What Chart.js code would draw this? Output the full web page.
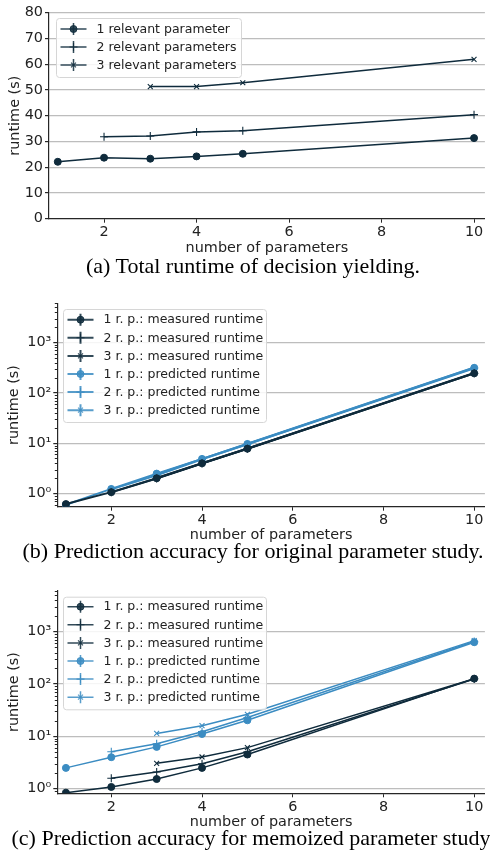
<!DOCTYPE html>
<html>
<head>
<meta charset="utf-8">
<script src="https://cdn.jsdelivr.net/npm/chart.js@4.4.0/dist/chart.umd.min.js"></script>
<style>
body { margin: 0; background: #fff; width: 490px; height: 850px; overflow: hidden; position: relative; }
canvas { position: absolute; left: 0; }
.cap { position: absolute; left: 0; width: 506px; text-align: center; font-family: "Liberation Serif", serif; font-size: 22px; line-height: 22px; color: #000; white-space: nowrap; }
</style>
</head>
<body>
<canvas id="c1" width="490" height="257" style="top:0px"></canvas>
<div class="cap" style="top:255px">(a) Total runtime of decision yielding.</div>
<canvas id="c2" width="490" height="259" style="top:285px"></canvas>
<div class="cap" style="top:540px">(b) Prediction accuracy for original parameter study.</div>
<canvas id="c3" width="490" height="256" style="top:575px"></canvas>
<div class="cap" style="top:827px">(c) Prediction accuracy for memoized parameter study.</div>
<script>
// x-Werte: Anzahl Parameter
const nParams = [1, 2, 3, 4, 5, 10];

// (a) Gesamtlaufzeit
const totalLabels = ['1 relevant parameter', '2 relevant parameters', '3 relevant parameters'];
const total1 = [22.1, 23.7, 23.3, 24.2, 25.2, 31.3];
const total2 = [null, 31.8, 32.1, 33.7, 34.2, 40.4];
const total3 = [null, null, 51.3, 51.3, 52.8, 61.9];

// (b) / (c) Legenden
const accLabels = ['1 r. p.: measured runtime', '2 r. p.: measured runtime', '3 r. p.: measured runtime',
                   '1 r. p.: predicted runtime', '2 r. p.: predicted runtime', '3 r. p.: predicted runtime'];

// (b) original parameter study
const origMeas1 = [0.62, 1.07, 2.02, 4.0, 7.8, 245];
const origMeas2 = [null, 1.06, 2.0, 3.95, 7.8, 247];
const origMeas3 = [null, null, 2.05, 4.0, 7.9, 250];
const origPred1 = [0.6, 1.24, 2.5, 4.9, 9.7, 316];
const origPred2 = [null, 1.22, 2.3, 4.8, 9.6, 310];
const origPred3 = [null, null, 2.4, 4.9, 9.8, 320];

// (c) memoized parameter study
const memoMeas1 = [0.84, 1.08, 1.53, 2.5, 4.5, 127];
const memoMeas2 = [null, 1.58, 2.08, 3.0, 5.1, 125];
const memoMeas3 = [null, null, 3.06, 4.04, 6.1, 126];
const memoPred1 = [2.5, 4.0, 6.3, 11.1, 20.3, 630];
const memoPred2 = [null, 5.1, 7.2, 12.3, 23, 650];
const memoPred3 = [null, null, 11.4, 16, 26.4, 675];

const xTicks = [2, 4, 6, 8, 10];

const dark = '#0f2b3c';
const blue = '#3b8cc2';
const sup = { '-1': '⁻¹', 0: '⁰', 1: '¹', 2: '²', 3: '³' };

Chart.defaults.font.family = '"DejaVu Sans"';
Chart.defaults.font.size = 14.4;
Chart.defaults.color = '#222';

function toPoints(ys) {
    return nParams.map((x, i) => ({ x: x, y: ys[i] })).filter(p => p.y !== null);
}

function isMajor(v) {
    const e = Math.log10(v);
    return Math.abs(e - Math.round(e)) < 1e-6;
}

// Legende im Stil von matplotlib (Linie + Marker + Fehlerbalken)
const legendBox = {
    id: 'legendBox',
    afterDatasetsDraw(chart, args, o) {
        const ctx = chart.ctx;
        ctx.save();
        ctx.beginPath();
        ctx.roundRect(o.x + 0.5, o.y + 0.5, o.w, o.h, 3);
        ctx.fillStyle = 'rgba(255,255,255,0.85)';
        ctx.fill();
        ctx.strokeStyle = '#d6d6d6';
        ctx.lineWidth = 1;
        ctx.stroke();
        chart.data.datasets.forEach((ds, i) => {
            const y = o.y + o.first + i * o.step;
            const x0 = o.x + 4.5, x1 = o.x + 30.5, mx = o.x + 17.5;
            ctx.globalAlpha = 0.85;
            ctx.strokeStyle = ds.borderColor;
            ctx.fillStyle = ds.borderColor;
            ctx.lineWidth = ds.borderWidth;
            ctx.beginPath();
            ctx.moveTo(x0, y); ctx.lineTo(x1, y);
            ctx.moveTo(mx, y - 6); ctx.lineTo(mx, y + 6);
            ctx.stroke();
            ctx.lineWidth = ds.pointBorderWidth;
            Chart.helpers.drawPoint(ctx, { pointStyle: ds.pointStyle, radius: ds.pointRadius, rotation: 0, borderWidth: ds.pointBorderWidth }, mx, y);
            ctx.globalAlpha = 1;
            ctx.fillStyle = '#222';
            ctx.font = '12.5px "DejaVu Sans"';
            ctx.textBaseline = 'middle';
            ctx.fillText(ds.label, o.x + 40.5, y + 0.5);
        });
        ctx.restore();
    }
};

// kleine Nebenstriche an der log-Achse
const minorTicks = {
    id: 'minorTicks',
    afterDraw(chart) {
        const s = chart.scales.y;
        if (s.type !== 'logarithmic') return;
        const ctx = chart.ctx;
        ctx.save();
        ctx.strokeStyle = '#262626';
        ctx.lineWidth = 1;
        ctx.beginPath();
        s.ticks.forEach(t => {
            if (isMajor(t.value)) return;
            const py = Math.round(s.getPixelForValue(t.value)) + 0.5;
            ctx.moveTo(s.right - 2.5, py);
            ctx.lineTo(s.right, py);
        });
        ctx.stroke();
        ctx.restore();
    }
};

function makeDataset(label, ys, color, style, lw) {
    const styles = {
        circle: { pointStyle: 'circle', pointRadius: 3.5, pointBorderWidth: 1 },
        plus: { pointStyle: 'cross', pointRadius: 4, pointBorderWidth: 1.1 },
        x: { pointStyle: 'crossRot', pointRadius: 3.5, pointBorderWidth: 1.1 }
    };
    return Object.assign({
        label: label,
        data: toPoints(ys),
        borderColor: color,
        backgroundColor: color,
        pointBackgroundColor: color,
        pointBorderColor: color,
        borderWidth: lw,
        pointHoverRadius: 4,
        tension: 0
    }, styles[style]);
}

function makeChart(id, datasets, opt) {
    const logY = opt.yType === 'logarithmic';
    const yScale = {
        type: opt.yType,
        min: opt.yMin,
        max: opt.yMax,
        afterFit: s => { s.width = opt.yWidth; },
        border: { color: '#262626', width: 1.2 },
        grid: {
            color: ctx => (ctx.tick && (!logY || isMajor(ctx.tick.value)) && ctx.tick.value !== 0) ? '#bdbdbd' : 'rgba(0,0,0,0)',
            lineWidth: 1.2,
            tickColor: ctx => (ctx.tick && (!logY || isMajor(ctx.tick.value))) ? '#262626' : 'rgba(0,0,0,0)',
            tickLength: 4
        },
        ticks: { padding: 2, autoSkip: false, color: '#222' },
        title: { display: true, text: 'runtime (s)', padding: { top: opt.yTitlePad, bottom: opt.yTitlePad }, color: '#222' }
    };
    if (logY) {
        yScale.afterBuildTicks = s => {
            const t = [];
            for (let e = -1; e <= 3; e++) {
                for (let m = 1; m <= 9; m++) {
                    const v = m * Math.pow(10, e);
                    if (v >= s.min && v <= s.max) t.push({ value: v });
                }
            }
            s.ticks = t;
        };
        yScale.ticks.callback = v => isMajor(v) ? '10' + sup[Math.round(Math.log10(v))] : '';
    } else {
        yScale.ticks.stepSize = opt.yStep;
    }

    return new Chart(document.getElementById(id), {
        type: 'line',
        data: { datasets: datasets },
        options: {
            responsive: false,
            animation: false,
            layout: { padding: { top: opt.top, right: 0, left: 0, bottom: 0 } },
            plugins: { legend: { display: false }, tooltip: { enabled: false }, legendBox: opt.legend },
            scales: {
                x: {
                    type: 'linear',
                    min: 0.81,
                    max: 10.235,
                    afterBuildTicks: s => { s.ticks = xTicks.map(v => ({ value: v })); },
                    afterFit: s => { s.height = opt.xHeight; },
                    border: { color: '#262626', width: 1.2 },
                    grid: { drawOnChartArea: false, tickLength: 4, tickColor: '#262626' },
                    ticks: { padding: 1, color: '#222', maxRotation: 0 },
                    title: { display: true, text: 'number of parameters', padding: { top: 0, bottom: 0 }, color: '#222' }
                },
                y: yScale
            }
        },
        plugins: [legendBox, minorTicks]
    });
}

// (a)
makeChart('c1', [
    makeDataset(totalLabels[0], total1, dark, 'circle', 1.5),
    makeDataset(totalLabels[1], total2, dark, 'plus', 1.5),
    makeDataset(totalLabels[2], total3, dark, 'x', 1.5)
], { yType: 'linear', yMin: 0, yMax: 80, yStep: 10, yWidth: 49, xHeight: 38.3, top: 12.7, yTitlePad: 6.4,
     legend: { x: 56, y: 18, w: 185, h: 59, first: 11, step: 18 } });

// (b)
makeChart('c2', [
    makeDataset(accLabels[0], origMeas1, dark, 'circle', 2),
    makeDataset(accLabels[1], origMeas2, dark, 'plus', 2),
    makeDataset(accLabels[2], origMeas3, dark, 'x', 2),
    makeDataset(accLabels[3], origPred1, blue, 'circle', 2),
    makeDataset(accLabels[4], origPred2, blue, 'plus', 2),
    makeDataset(accLabels[5], origPred3, blue, 'x', 2)
], { yType: 'logarithmic', yMin: 0.55, yMax: 6040, yWidth: 57.3, xHeight: 37.3, top: 18.3, yTitlePad: 5.7,
     legend: { x: 63, y: 24, w: 203, h: 113, first: 10.7, step: 18.1 } });

// (c)
makeChart('c3', [
    makeDataset(accLabels[0], memoMeas1, dark, 'circle', 1.5),
    makeDataset(accLabels[1], memoMeas2, dark, 'plus', 1.5),
    makeDataset(accLabels[2], memoMeas3, dark, 'x', 1.5),
    makeDataset(accLabels[3], memoPred1, blue, 'circle', 1.5),
    makeDataset(accLabels[4], memoPred2, blue, 'plus', 1.5),
    makeDataset(accLabels[5], memoPred3, blue, 'x', 1.5)
], { yType: 'logarithmic', yMin: 0.817, yMax: 6080, yWidth: 57.3, xHeight: 37.7, top: 15.7, yTitlePad: 5.4,
     legend: { x: 63, y: 21.7, w: 203, h: 112.6, first: 10, step: 18.1 } });
</script>
</body>
</html>
